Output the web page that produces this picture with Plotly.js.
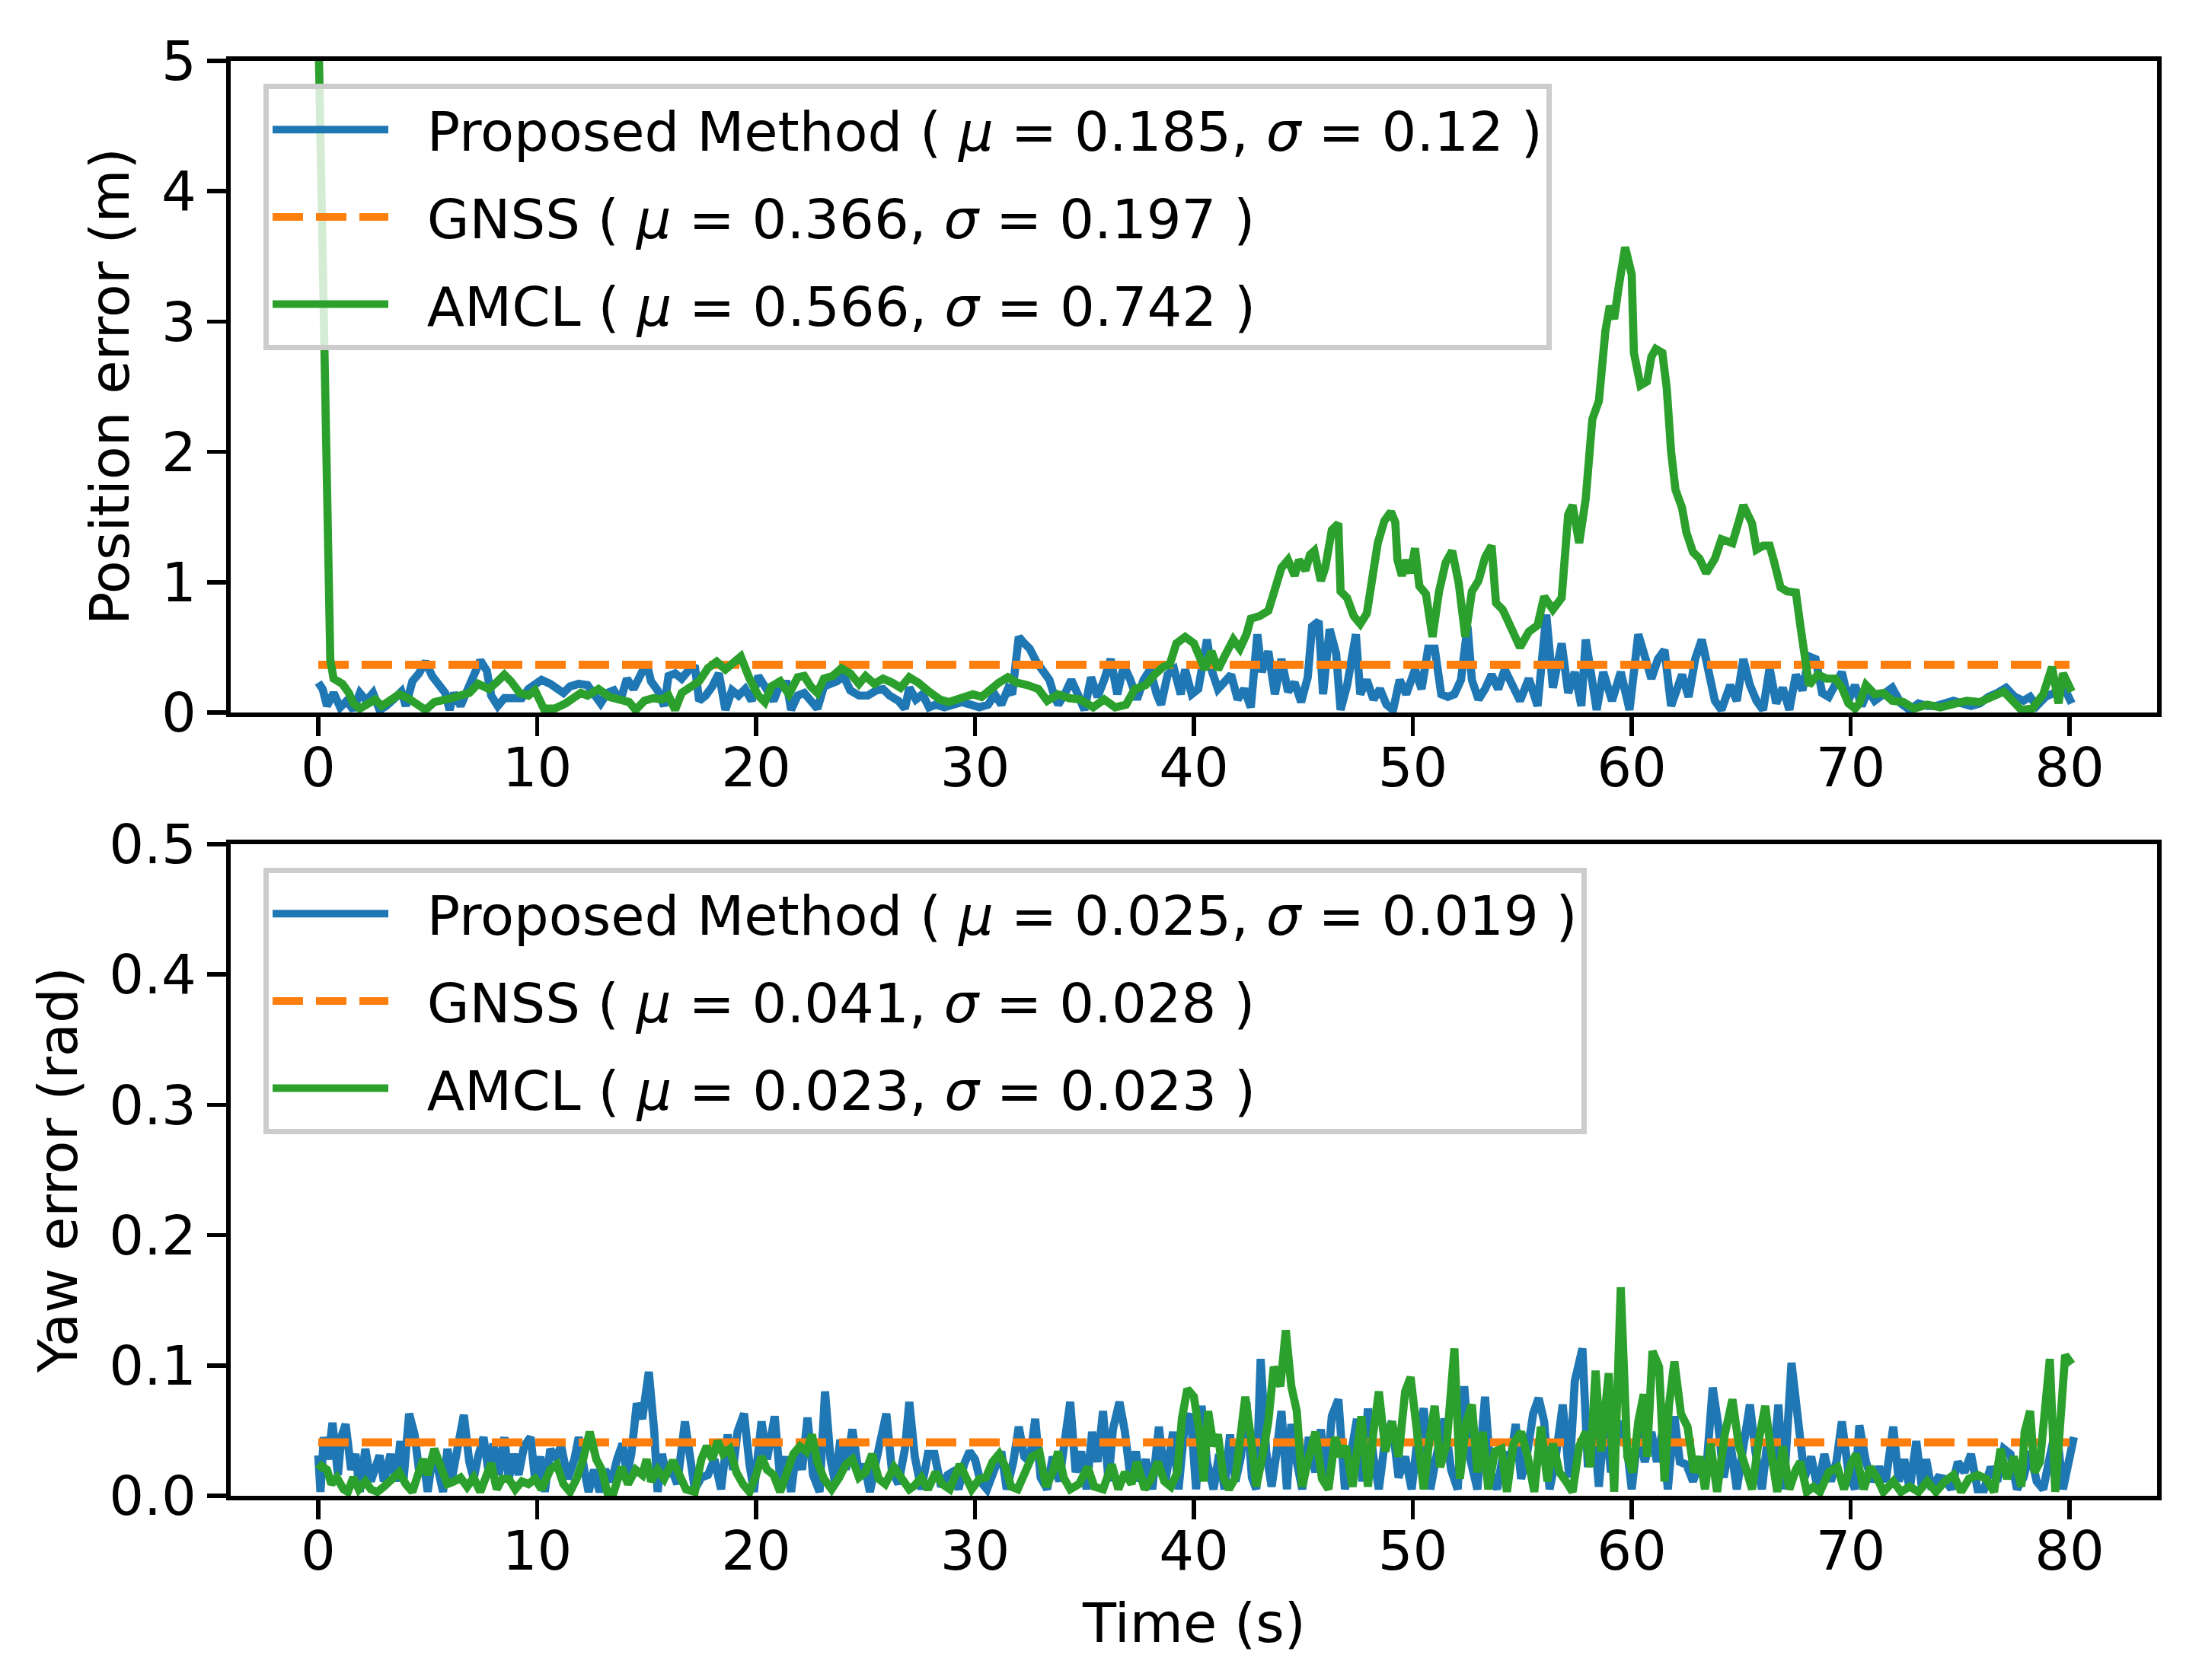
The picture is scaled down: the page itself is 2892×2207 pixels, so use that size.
<!DOCTYPE html>
<html>
<head>
<meta charset="utf-8">
<script src="https://cdn.plot.ly/plotly-3.0.1.min.js"></script>
<style>html,body{margin:0;padding:0;background:#fff;}#chart{width:2892px;height:2207px;}</style>
</head>
<body>
<div id="chart"></div>
<script>
// ---------- Position error (m) ----------
const posPropT = [0,0.2,0.4,0.7,1.0,1.3,1.6,1.9,2.2,2.5,2.8,3.1,3.5,3.8,4.0,4.3,4.6,4.9,5.2,5.5,5.8,6.0,6.2,6.5,6.8,7.1,7.4,7.7,7.9,8.2,8.5,8.9,9.3,9.6,9.9,10.2,10.6,10.9,11.2,11.5,11.9,12.3,12.6,12.9,13.2,13.5,13.8,14.1,14.4,14.7,15.0,15.2,15.5,15.8,16.0,16.3,16.6,16.9,17.2,17.4,17.7,18.0,18.3,18.6,18.9,19.2,19.5,19.8,20.1,20.4,20.8,21.1,21.4,21.6,21.9,22.2,22.5,22.8,23.1,23.4,23.7,24.0,24.3,24.7,25.1,25.5,25.8,26.1,26.5,26.8,27.0,27.3,27.6,27.9,28.2,28.6,29.0,29.4,29.8,30.2,30.6,30.9,31.2,31.5,31.7,32.0,32.2,32.5,32.8,33.1,33.4,33.6,33.8,34.1,34.4,34.7,35.0,35.3,35.6,35.9,36.2,36.5,36.8,37.1,37.4,37.7,38.0,38.3,38.5,38.8,39.1,39.4,39.6,39.9,40.2,40.6,40.8,41.1,41.4,41.7,42.0,42.3,42.6,42.9,43.1,43.4,43.7,44.0,44.3,44.6,44.9,45.2,45.4,45.7,45.9,46.2,46.5,46.7,47.0,47.4,47.6,47.9,48.2,48.5,48.8,49.1,49.4,49.7,50.1,50.4,50.7,51.0,51.3,51.6,51.9,52.2,52.5,52.7,53.0,53.3,53.6,53.9,54.2,54.5,54.9,55.3,55.7,56.1,56.4,56.8,57.1,57.4,57.7,57.9,58.2,58.4,58.7,59.1,59.5,59.9,60.3,60.6,60.9,61.2,61.5,61.8,62.1,62.3,62.6,62.9,63.2,63.5,63.8,64.1,64.5,64.8,65.1,65.4,65.7,66.0,66.3,66.6,66.9,67.2,67.5,67.8,68.1,68.4,68.7,69.0,69.3,69.6,69.9,70.2,70.5,70.8,71.1,71.5,71.9,72.3,72.7,73.1,73.5,73.9,74.3,74.7,75.1,75.5,75.9,76.3,76.7,77.1,77.5,77.9,78.2,78.5,78.9,79.3,79.7,80.1];
const posPropErr = [0.23,0.18,0.05,0.15,0.04,0.09,0.02,0.15,0.09,0.15,0.02,0.05,0.11,0.16,0.05,0.24,0.30,0.39,0.28,0.22,0.15,0.02,0.15,0.05,0.17,0.30,0.40,0.32,0.13,0.05,0.11,0.11,0.11,0.18,0.22,0.25,0.22,0.18,0.15,0.20,0.22,0.21,0.13,0.07,0.15,0.17,0.09,0.26,0.18,0.28,0.38,0.24,0.17,0.05,0.28,0.30,0.26,0.32,0.36,0.09,0.13,0.20,0.30,0.02,0.17,0.13,0.18,0.09,0.28,0.20,0.09,0.22,0.22,0.02,0.13,0.15,0.09,0.03,0.20,0.22,0.24,0.28,0.17,0.13,0.13,0.17,0.18,0.13,0.09,0.03,0.19,0.10,0.14,0.04,0.06,0.04,0.06,0.08,0.06,0.04,0.06,0.14,0.06,0.18,0.14,0.58,0.54,0.49,0.39,0.31,0.25,0.14,0.06,0.14,0.25,0.14,0.02,0.27,0.12,0.25,0.41,0.14,0.36,0.25,0.10,0.25,0.33,0.14,0.06,0.29,0.33,0.14,0.33,0.14,0.18,0.56,0.33,0.18,0.23,0.29,0.10,0.18,0.04,0.60,0.31,0.47,0.14,0.41,0.16,0.23,0.08,0.27,0.66,0.70,0.14,0.64,0.45,0.02,0.21,0.60,0.14,0.25,0.10,0.18,0.06,0.02,0.25,0.14,0.33,0.18,0.49,0.49,0.14,0.12,0.14,0.25,0.66,0.25,0.10,0.18,0.29,0.18,0.33,0.21,0.09,0.26,0.05,0.75,0.19,0.53,0.15,0.31,0.05,0.56,0.26,0.02,0.31,0.09,0.31,0.02,0.60,0.43,0.26,0.41,0.48,0.05,0.21,0.29,0.12,0.41,0.56,0.31,0.09,0.02,0.21,0.09,0.41,0.21,0.09,0.02,0.34,0.07,0.19,0.02,0.29,0.17,0.43,0.41,0.15,0.12,0.21,0.31,0.09,0.21,0.05,0.17,0.09,0.15,0.19,0.07,0.02,0.07,0.05,0.05,0.07,0.09,0.07,0.05,0.07,0.12,0.15,0.19,0.12,0.09,0.12,0.05,0.12,0.15,0.21,0.07];

const posAmclT = [0,0.15,0.3,0.45,0.55,0.7,1.1,1.4,1.6,1.9,2.3,2.6,2.9,3.2,3.7,4.1,4.5,4.9,5.3,5.7,6.1,6.5,6.9,7.3,7.8,8.2,8.5,8.8,9.2,9.6,9.9,10.3,10.8,11.3,11.7,12.0,12.3,12.8,13.3,13.8,14.2,14.5,14.9,15.3,15.7,16.0,16.3,16.6,17.0,17.4,17.8,18.2,18.6,18.9,19.3,19.7,20.1,20.4,20.7,21.1,21.5,21.9,22.2,22.5,22.8,23.1,23.5,23.9,24.3,24.7,25.0,25.4,25.8,26.2,26.6,27.0,27.4,27.9,28.4,28.8,29.4,29.9,30.3,30.7,31.1,31.5,31.9,32.4,32.9,33.3,33.8,34.3,34.8,35.4,35.9,36.4,36.9,37.3,37.8,38.2,38.6,38.9,39.2,39.6,40.0,40.2,40.5,40.8,41.1,41.4,41.8,42.1,42.4,42.6,43.0,43.4,43.7,44.0,44.3,44.6,44.8,45.1,45.3,45.5,45.8,46.0,46.3,46.6,46.7,47.0,47.3,47.6,47.9,48.1,48.4,48.7,49.0,49.2,49.3,49.5,49.7,49.9,50.1,50.3,50.6,50.9,51.2,51.5,51.8,52.1,52.4,52.7,53.0,53.3,53.6,53.8,54.1,54.3,54.6,54.9,55.3,55.7,56.0,56.4,56.8,57.1,57.3,57.6,57.9,58.2,58.5,58.8,59.0,59.2,59.4,59.7,60.0,60.1,60.4,60.7,60.9,61.1,61.4,61.6,61.8,62.0,62.3,62.5,62.8,63.1,63.4,63.8,64.1,64.6,64.9,65.1,65.5,65.7,66.0,66.3,66.5,66.8,67.1,67.5,67.7,67.9,68.1,68.5,68.9,69.3,69.6,69.9,70.2,70.4,70.7,71.1,71.5,71.9,72.4,72.9,73.5,74.1,74.7,75.3,75.9,76.5,77.0,77.4,77.8,78.3,78.8,79.2,79.5,79.7,80.1];
const posAmclErr = [5.3,3.9,2.2,1.2,0.40,0.26,0.22,0.15,0.07,0.03,0.08,0.10,0.05,0.09,0.14,0.11,0.06,0.02,0.08,0.09,0.11,0.13,0.15,0.22,0.18,0.24,0.29,0.24,0.15,0.13,0.17,0.03,0.03,0.07,0.11,0.15,0.13,0.18,0.12,0.10,0.08,0.02,0.09,0.11,0.10,0.13,0.02,0.15,0.19,0.24,0.34,0.39,0.33,0.37,0.43,0.26,0.13,0.08,0.20,0.24,0.14,0.27,0.28,0.20,0.15,0.26,0.28,0.34,0.30,0.22,0.28,0.22,0.26,0.23,0.19,0.27,0.23,0.16,0.10,0.08,0.12,0.14,0.12,0.18,0.23,0.27,0.23,0.21,0.18,0.09,0.14,0.11,0.10,0.04,0.10,0.04,0.06,0.18,0.21,0.29,0.35,0.37,0.53,0.58,0.53,0.45,0.33,0.47,0.33,0.43,0.56,0.49,0.60,0.72,0.74,0.78,0.93,1.11,1.17,1.05,1.17,1.09,1.21,1.24,1.01,1.11,1.40,1.45,0.93,0.88,0.74,0.68,0.76,0.95,1.30,1.47,1.54,1.46,1.17,1.05,1.17,1.07,1.26,0.97,0.91,0.58,0.93,1.15,1.24,0.99,0.58,0.93,1.01,1.19,1.28,0.84,0.79,0.72,0.62,0.50,0.62,0.67,0.89,0.79,0.88,1.52,1.59,1.30,1.64,2.25,2.39,2.93,3.12,3.02,3.26,3.57,3.36,2.76,2.51,2.54,2.73,2.79,2.76,2.49,2.00,1.71,1.57,1.38,1.23,1.18,1.07,1.18,1.33,1.30,1.47,1.59,1.45,1.25,1.28,1.28,1.16,0.96,0.93,0.92,0.67,0.43,0.21,0.29,0.26,0.26,0.19,0.07,0.03,0.07,0.21,0.14,0.15,0.09,0.08,0.03,0.06,0.04,0.06,0.09,0.08,0.12,0.16,0.09,0.02,0.03,0.14,0.35,0.07,0.30,0.16];

const gnssT = [0, 80];
const posGnssErr = [0.366, 0.366];

// ---------- Yaw error (rad) ----------
const yawPropT = [0,0.1,0.25,0.45,0.65,0.9,1.05,1.25,1.5,1.7,1.9,2.15,2.4,2.6,2.8,3.0,3.3,3.55,3.75,3.9,4.15,4.4,4.6,4.8,5.0,5.2,5.45,5.7,5.9,6.1,6.35,6.65,6.9,7.1,7.3,7.55,7.8,8.0,8.25,8.5,8.7,8.95,9.15,9.4,9.7,9.9,10.15,10.35,10.6,10.8,11.1,11.4,11.7,11.9,12.15,12.35,12.6,12.85,13.1,13.4,13.65,13.9,14.1,14.3,14.55,14.8,15.1,15.35,15.5,15.7,15.9,16.15,16.4,16.75,17.0,17.2,17.5,17.8,18.1,18.4,18.7,18.95,19.15,19.45,19.7,19.9,20.25,20.5,20.85,21.1,21.35,21.6,21.85,22.1,22.35,22.6,22.9,23.15,23.4,23.6,23.85,24.1,24.4,24.7,24.95,25.2,25.5,25.95,26.2,26.5,26.8,27.0,27.25,27.55,27.85,28.15,28.45,28.75,28.95,29.25,29.5,29.75,30.0,30.25,30.55,30.95,31.2,31.45,31.75,32.0,32.25,32.5,32.75,33.0,33.3,33.55,33.85,34.1,34.35,34.6,34.85,35.1,35.35,35.6,35.85,36.1,36.3,36.6,36.85,37.1,37.35,37.55,37.8,38.1,38.4,38.7,39.05,39.3,39.55,39.85,40.1,40.35,40.6,40.9,41.15,41.4,41.65,41.9,42.15,42.4,42.65,42.85,43.05,43.3,43.55,43.75,44.0,44.25,44.45,44.7,44.95,45.25,45.55,45.8,46.05,46.3,46.6,46.9,47.15,47.45,47.7,47.95,48.2,48.45,48.75,49.05,49.35,49.65,49.95,50.25,50.5,50.8,51.1,51.45,51.75,52.05,52.35,52.6,52.95,53.3,53.55,53.85,54.15,54.35,54.7,54.95,55.2,55.5,55.75,56.0,56.25,56.5,56.85,57.15,57.4,57.75,58.0,58.25,58.5,58.8,59.05,59.3,59.65,60.0,60.3,60.6,60.9,61.15,61.4,61.65,61.95,62.2,62.5,62.8,63.1,63.4,63.7,63.95,64.2,64.5,64.8,65.1,65.4,65.65,65.95,66.2,66.45,66.7,66.95,67.3,67.6,67.9,68.2,68.5,68.8,69.1,69.35,69.6,69.9,70.2,70.4,70.7,71.0,71.3,71.6,71.95,72.2,72.45,72.7,73.0,73.25,73.45,73.7,74.0,74.3,74.6,74.9,75.2,75.5,75.8,76.1,76.4,76.7,77.0,77.3,77.6,77.9,78.2,78.5,78.8,79.1,79.4,79.7,79.95,80.2];
const yawPropErr = [0.031,0.003,0.045,0.028,0.056,0.016,0.045,0.055,0.020,0.032,0.003,0.036,0.011,0.024,0.031,0.011,0.032,0.011,0.042,0.013,0.063,0.047,0.020,0.028,0.003,0.028,0.022,0.003,0.036,0.013,0.036,0.062,0.026,0.013,0.030,0.045,0.016,0.040,0.016,0.045,0.013,0.032,0.016,0.038,0.045,0.013,0.030,0.003,0.036,0.028,0.038,0.013,0.028,0.045,0.020,0.003,0.020,0.003,0.020,0.011,0.028,0.040,0.016,0.032,0.071,0.059,0.095,0.049,0.003,0.032,0.016,0.020,0.009,0.057,0.028,0.005,0.014,0.016,0.028,0.005,0.047,0.020,0.049,0.063,0.024,0.003,0.057,0.028,0.061,0.013,0.030,0.003,0.036,0.020,0.060,0.016,0.003,0.080,0.028,0.011,0.043,0.020,0.051,0.016,0.024,0.003,0.028,0.063,0.020,0.009,0.036,0.072,0.030,0.005,0.032,0.032,0.007,0.016,0.018,0.005,0.024,0.034,0.028,0.011,0.005,0.026,0.034,0.005,0.026,0.053,0.030,0.026,0.059,0.014,0.005,0.030,0.011,0.042,0.072,0.018,0.034,0.005,0.049,0.026,0.065,0.011,0.051,0.072,0.049,0.014,0.034,0.011,0.028,0.005,0.053,0.011,0.049,0.005,0.049,0.063,0.005,0.069,0.026,0.005,0.032,0.005,0.047,0.011,0.030,0.072,0.014,0.005,0.105,0.034,0.007,0.030,0.065,0.005,0.055,0.026,0.005,0.045,0.018,0.051,0.011,0.061,0.074,0.005,0.030,0.059,0.011,0.067,0.030,0.005,0.045,0.057,0.014,0.030,0.005,0.049,0.067,0.005,0.032,0.059,0.020,0.005,0.084,0.030,0.005,0.076,0.018,0.005,0.034,0.014,0.055,0.013,0.030,0.063,0.075,0.057,0.005,0.026,0.070,0.014,0.088,0.113,0.022,0.057,0.007,0.065,0.018,0.042,0.057,0.005,0.049,0.026,0.049,0.026,0.049,0.005,0.061,0.026,0.024,0.011,0.026,0.018,0.083,0.055,0.014,0.042,0.005,0.040,0.070,0.034,0.005,0.042,0.024,0.070,0.005,0.102,0.053,0.014,0.030,0.005,0.032,0.011,0.026,0.057,0.018,0.005,0.054,0.026,0.011,0.022,0.011,0.053,0.011,0.028,0.005,0.042,0.007,0.028,0.005,0.014,0.013,0.005,0.026,0.018,0.032,0.005,0.005,0.022,0.011,0.036,0.032,0.005,0.014,0.034,0.011,0.005,0.030,0.053,0.005,0.022,0.045];

const yawAmclT = [0,0.15,0.4,0.6,0.85,1.15,1.35,1.6,1.85,2.15,2.4,2.7,3.0,3.35,3.7,4.0,4.3,4.55,4.8,5.0,5.3,5.6,5.9,6.2,6.5,6.8,7.1,7.4,7.65,7.9,8.15,8.4,8.7,9.0,9.3,9.6,9.9,10.2,10.6,10.9,11.2,11.5,11.8,12.1,12.4,12.7,12.95,13.2,13.5,13.85,14.15,14.5,14.8,15.0,15.2,15.5,15.8,16.2,16.5,16.8,17.2,17.5,17.75,18.0,18.25,18.5,18.8,19.1,19.4,19.7,20.0,20.25,20.5,20.8,21.1,21.4,21.7,22.0,22.3,22.55,22.8,23.1,23.45,23.8,24.1,24.4,24.7,25.0,25.3,25.6,25.9,26.3,26.7,27.0,27.25,27.55,27.85,28.2,28.5,28.85,29.3,29.55,29.85,30.2,30.5,30.8,31.1,31.4,31.65,31.95,32.25,32.6,32.95,33.25,33.55,33.8,34.05,34.35,34.75,35.15,35.45,35.85,36.25,36.55,36.85,37.15,37.4,37.75,38.05,38.35,38.65,38.95,39.25,39.45,39.7,40.0,40.25,40.45,40.65,40.9,41.1,41.35,41.6,41.9,42.1,42.35,42.6,42.85,43.15,43.4,43.65,43.95,44.2,44.45,44.7,44.95,45.2,45.55,45.85,46.15,46.45,46.7,46.95,47.25,47.65,47.95,48.2,48.45,48.75,49.05,49.35,49.65,49.9,50.2,50.5,50.75,51.0,51.25,51.55,51.9,52.15,52.45,52.7,52.95,53.2,53.45,53.75,54.05,54.3,54.6,54.95,55.25,55.55,55.85,56.15,56.4,56.7,57.0,57.3,57.6,57.9,58.1,58.35,58.6,58.95,59.2,59.5,59.8,60.05,60.3,60.55,60.7,60.95,61.25,61.5,61.7,61.95,62.25,62.55,62.85,63.1,63.35,63.6,63.9,64.25,64.6,64.9,65.2,65.5,65.8,66.1,66.4,66.65,66.9,67.2,67.5,67.7,68.0,68.3,68.6,69.0,69.4,69.7,70.0,70.25,70.6,70.9,71.2,71.5,71.95,72.3,72.7,73.1,73.5,73.9,74.3,74.7,75.05,75.4,75.8,76.2,76.55,76.85,77.15,77.45,77.8,77.95,78.2,78.4,78.65,78.95,79.1,79.35,79.6,79.8,80.1];
const yawAmclErr = [0.020,0.023,0.020,0.009,0.014,0.005,0.003,0.014,0.005,0.011,0.005,0.003,0.007,0.013,0.018,0.009,0.003,0.016,0.028,0.016,0.036,0.022,0.009,0.011,0.014,0.007,0.014,0.003,0.013,0.025,0.005,0.013,0.013,0.005,0.011,0.009,0.013,0.005,0.020,0.024,0.009,0.003,0.013,0.028,0.049,0.028,0.020,0.003,0.003,0.022,0.009,0.020,0.016,0.028,0.011,0.020,0.013,0.027,0.016,0.005,0.003,0.028,0.038,0.028,0.042,0.032,0.036,0.018,0.009,0.003,0.016,0.030,0.020,0.016,0.003,0.016,0.032,0.038,0.034,0.047,0.026,0.013,0.005,0.014,0.024,0.028,0.014,0.018,0.032,0.013,0.009,0.022,0.013,0.005,0.008,0.014,0.005,0.018,0.009,0.005,0.024,0.014,0.005,0.013,0.014,0.026,0.032,0.022,0.007,0.005,0.016,0.030,0.033,0.007,0.018,0.034,0.014,0.005,0.009,0.022,0.007,0.005,0.024,0.005,0.018,0.009,0.026,0.005,0.013,0.026,0.011,0.007,0.018,0.059,0.082,0.076,0.049,0.011,0.065,0.038,0.047,0.014,0.005,0.014,0.042,0.076,0.045,0.007,0.032,0.057,0.099,0.084,0.127,0.084,0.065,0.007,0.026,0.049,0.013,0.005,0.045,0.030,0.038,0.007,0.061,0.007,0.049,0.080,0.034,0.057,0.030,0.080,0.091,0.049,0.005,0.042,0.069,0.022,0.040,0.113,0.013,0.057,0.070,0.018,0.049,0.005,0.034,0.036,0.003,0.040,0.049,0.030,0.003,0.053,0.011,0.040,0.018,0.011,0.003,0.038,0.049,0.022,0.096,0.034,0.094,0.003,0.160,0.030,0.018,0.057,0.078,0.030,0.111,0.099,0.011,0.069,0.103,0.063,0.053,0.018,0.030,0.005,0.040,0.003,0.047,0.074,0.038,0.022,0.005,0.042,0.069,0.030,0.003,0.038,0.005,0.020,0.026,0.003,0.007,0.003,0.018,0.022,0.005,0.024,0.032,0.005,0.022,0.014,0.003,0.011,0.003,0.007,0.003,0.011,0.003,0.011,0.016,0.003,0.013,0.016,0.013,0.003,0.036,0.013,0.030,0.007,0.049,0.065,0.018,0.026,0.088,0.105,0.003,0.057,0.108,0.101];

const yawGnssErr = [0.041, 0.041];

const posLabels = [
  'Proposed Method ( <i>μ</i> = 0.185, <i>σ</i> = 0.12 )',
  'GNSS ( <i>μ</i> = 0.366, <i>σ</i> = 0.197 )',
  'AMCL ( <i>μ</i> = 0.566, <i>σ</i> = 0.742 )'
];
const yawLabels = [
  'Proposed Method ( <i>μ</i> = 0.025, <i>σ</i> = 0.019 )',
  'GNSS ( <i>μ</i> = 0.041, <i>σ</i> = 0.028 )',
  'AMCL ( <i>μ</i> = 0.023, <i>σ</i> = 0.023 )'
];
const xTicks = [0,10,20,30,40,50,60,70,80];
const posTicks = [0,1,2,3,4,5];
const yawTicks = [0.0,0.1,0.2,0.3,0.4,0.5];

// ---------- styling ----------
const BLUE = '#1f77b4', ORANGE = '#ff7f0e', GREEN = '#2ca02c';
const FONT = 'DejaVu Sans';
const FS = 72;
const LW = 10.7;
const pad = '\u00A0\u00A0';

function tr(x, y, name, color, dash, xa, ya, leg, grp) {
  return {
    x: x, y: y, name: pad + name, type: 'scatter', mode: 'lines',
    line: {color: color, width: LW, dash: dash},
    xaxis: xa, yaxis: ya, legend: leg, legendgroup: grp, hoverinfo: 'skip'
  };
}

const data = [
  tr(posPropT, posPropErr, posLabels[0], BLUE, 'solid', 'x', 'y', 'legend', 'a1'),
  tr(gnssT, posGnssErr, posLabels[1], ORANGE, '40px,17px', 'x', 'y', 'legend', 'a2'),
  tr(posAmclT, posAmclErr, posLabels[2], GREEN, 'solid', 'x', 'y', 'legend', 'a3'),
  tr(yawPropT, yawPropErr, yawLabels[0], BLUE, 'solid', 'x2', 'y2', 'legend2', 'b1'),
  tr(gnssT, yawGnssErr, yawLabels[1], ORANGE, '40px,17px', 'x2', 'y2', 'legend2', 'b2'),
  tr(yawAmclT, yawAmclErr, yawLabels[2], GREEN, 'solid', 'x2', 'y2', 'legend2', 'b3')
];

const W = 2892, H = 2207;
const axL = 303 / W, axR = 2833 / W;
const top1 = 1 - 80 / H, bot1 = 1 - 936 / H;
const top2 = 1 - 1109 / H, bot2 = 1 - 1965 / H;

function xAxis(anchor) {
  return {
    domain: [axL, axR], range: [-4, 84], anchor: anchor,
    tickmode: 'array', tickvals: xTicks, ticktext: xTicks.map(String),
    ticks: 'outside', ticklen: 25, tickwidth: 5.8, tickcolor: '#000',
    ticklabelstandoff: -20,
    showline: true, linewidth: 5.8, linecolor: '#000', mirror: true,
    showgrid: false, zeroline: false,
    tickfont: {family: FONT, size: FS, color: '#000'}
  };
}
function yAxis(anchor, dom, rng, ticks, fmt) {
  return {
    domain: dom, range: rng, anchor: anchor,
    tickmode: 'array', tickvals: ticks, ticktext: ticks.map(v => fmt(v)),
    ticks: 'outside', ticklen: 25, tickwidth: 5.8, tickcolor: '#000',
    showline: true, linewidth: 5.8, linecolor: '#000', mirror: true,
    showgrid: false, zeroline: false,
    tickfont: {family: FONT, size: FS, color: '#000'}
  };
}
function legendCfg(yTop) {
  return {
    x: 346 / W, xanchor: 'left', y: yTop, yanchor: 'top',
    bgcolor: 'rgba(255,255,255,0.8)', bordercolor: '#cccccc', borderwidth: 7,
    font: {family: FONT, size: FS, color: '#000'},
    itemwidth: 152, traceorder: 'grouped', tracegroupgap: 18,
    itemclick: false, itemdoubleclick: false
  };
}

const layout = {
  width: W, height: H,
  margin: {l: 0, r: 0, t: 0, b: 0, pad: 0},
  paper_bgcolor: '#fff', plot_bgcolor: '#fff',
  font: {family: FONT, size: FS, color: '#000'},
  showlegend: true,
  xaxis: xAxis('y'),
  yaxis: yAxis('x', [bot1, top1], [0, 5], posTicks, v => String(v)),
  xaxis2: xAxis('y2'),
  yaxis2: yAxis('x2', [bot2, top2], [0, 0.5], yawTicks, v => v.toFixed(1)),
  legend: legendCfg(1 - 110 / H),
  legend2: legendCfg(1 - 1140 / H),
  annotations: [
    {text: 'Position error (m)', xref: 'paper', yref: 'paper', x: 144 / W, y: (top1 + bot1) / 2,
     xanchor: 'center', yanchor: 'middle', textangle: -90, showarrow: false,
     font: {family: FONT, size: FS, color: '#000'}},
    {text: 'Yaw error (rad)', xref: 'paper', yref: 'paper', x: 76 / W, y: (top2 + bot2) / 2,
     xanchor: 'center', yanchor: 'middle', textangle: -90, showarrow: false,
     font: {family: FONT, size: FS, color: '#000'}},
    {text: 'Time (s)', xref: 'paper', yref: 'paper', x: (axL + axR) / 2, y: 1 - 2132 / H,
     xanchor: 'center', yanchor: 'middle', showarrow: false,
     font: {family: FONT, size: FS, color: '#000'}}
  ]
};

Plotly.newPlot('chart', data, layout, {staticPlot: true, displayModeBar: false});
</script>
</body>
</html>
